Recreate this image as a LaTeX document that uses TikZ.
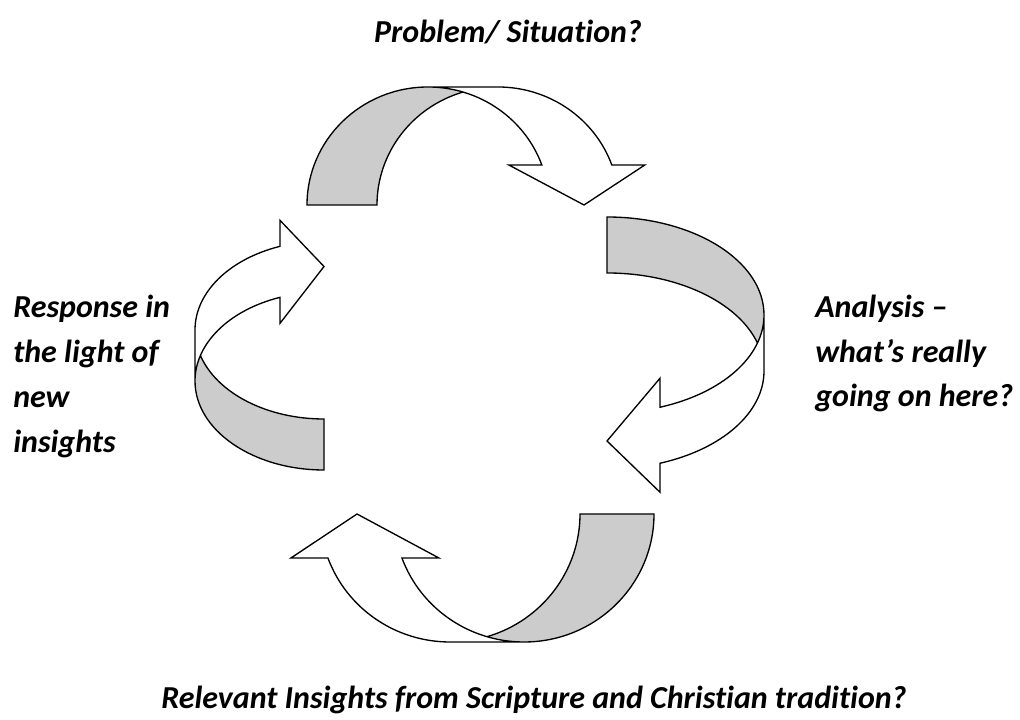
\documentclass[tikz,border=0pt]{standalone}
\usepackage{fontspec}
\setmainfont{Carlito}[Ligatures=NoCommon]
\definecolor{bandgray}{HTML}{CCCCCC}
\tikzset{
  backband/.style={fill=bandgray, draw=none},
  frontband/.style={fill=white, draw=none},
  ribbonline/.style={draw=black, line width=1pt, line join=miter},
  lbl/.style={font=\fontsize{24}{28}\selectfont\bfseries\itshape, inner sep=0pt, text=black}
}
% #1 band thickness, #2 ellipse x radius, #3 height, #4 arrow head height, #5 barb overhang
\newcommand\ribbonarrow[5]{%
  \pgfmathsetmacro\qTh{#1}%
  \pgfmathsetmacro\qWR{#2}%
  \pgfmathsetmacro\qH{#3}%
  \pgfmathsetmacro\qAh{#4}%
  \pgfmathsetmacro\qDh{#5}%
  \pgfmathsetmacro\qtL{acos(\qTh/(2*\qWR))}%
  \pgfmathsetmacro\qtR{180-\qtL}%
  \pgfmathsetmacro\qIx{\qWR+\qTh/2}%
  \pgfmathsetmacro\qIy{\qH*sin(\qtL)}%
  \pgfmathsetmacro\qtA{asin(\qAh/\qH)}%
  \pgfmathsetmacro\qDx{\qWR*cos(\qtA)}%
  \pgfmathsetmacro\qXv{\qWR+\qDx}%
  \pgfmathsetmacro\qXs{\qWR+\qTh+\qDx}%
  \pgfmathsetmacro\qXf{\qXv-\qDh}%
  \pgfmathsetmacro\qXe{\qXs+\qDh}%
  \pgfmathsetmacro\qXt{2*\qWR+\qTh/2}%
  \pgfmathsetmacro\qXr{\qWR+\qTh}%
  \path[frontband] (\qXt,0) -- (\qXf,\qAh) -- (\qXv,\qAh)
     arc[start angle=\qtA, end angle=90, x radius=\qWR, y radius=\qH]
     -- (\qXr,\qH)
     arc[start angle=90, end angle=\qtA, x radius=\qWR, y radius=\qH]
     -- (\qXe,\qAh) -- cycle;
  \path[backband] (\qIx,\qIy)
     arc[start angle=\qtR, end angle=180, x radius=\qWR, y radius=\qH]
     -- (0,0)
     arc[start angle=180, end angle=\qtL, x radius=\qWR, y radius=\qH]
     -- cycle;
  \path[ribbonline] (\qIx,\qIy)
     arc[start angle=\qtR, end angle=180, x radius=\qWR, y radius=\qH]
     -- (0,0)
     arc[start angle=180, end angle=90, x radius=\qWR, y radius=\qH]
     -- (\qXr,\qH)
     arc[start angle=90, end angle=\qtA, x radius=\qWR, y radius=\qH]
     -- (\qXe,\qAh) -- (\qXt,0) -- (\qXf,\qAh) -- (\qXv,\qAh)
     arc[start angle=\qtA, end angle=90, x radius=\qWR, y radius=\qH];
}
\begin{document}
\begin{tikzpicture}[x=0.75pt,y=0.75pt]
\useasboundingbox (0,0) rectangle (1020,720);
% top arrow
\begin{scope}[shift={(307,515)}]
  \ribbonarrow{70}{121}{118}{40}{33}
\end{scope}
% right arrow
\begin{scope}[shift={(607,503)},rotate=-90]
  \ribbonarrow{56}{98}{157}{53}{29}
\end{scope}
% bottom arrow
\begin{scope}[shift={(654,206)},rotate=180]
  \ribbonarrow{74}{130}{128}{44}{37}
\end{scope}
% left arrow
\begin{scope}[shift={(324,250)},rotate=90]
  \ribbonarrow{51}{89}{129}{44}{26}
\end{scope}
% labels
\node[lbl, anchor=base] (title) at (508,677) {Problem/ Situation?};
\node[lbl, anchor=base west] (resp1) at (13,402) {Response in};
\node[lbl, anchor=base west] (resp2) at (13,357) {the light of};
\node[lbl, anchor=base west] (resp3) at (13,312) {new};
\node[lbl, anchor=base west] (resp4) at (13,267) {insights};
\node[lbl, anchor=base west] (ana1) at (815,402) {Analysis –};
\node[lbl, anchor=base west] (ana2) at (815,357) {what’s really};
\node[lbl, anchor=base west] (ana3) at (815,313) {going on here?};
\node[lbl, anchor=base west] (bottom) at (161,11) {Relevant Insights from Scripture and Christian tradition?};
\end{tikzpicture}
\end{document}
